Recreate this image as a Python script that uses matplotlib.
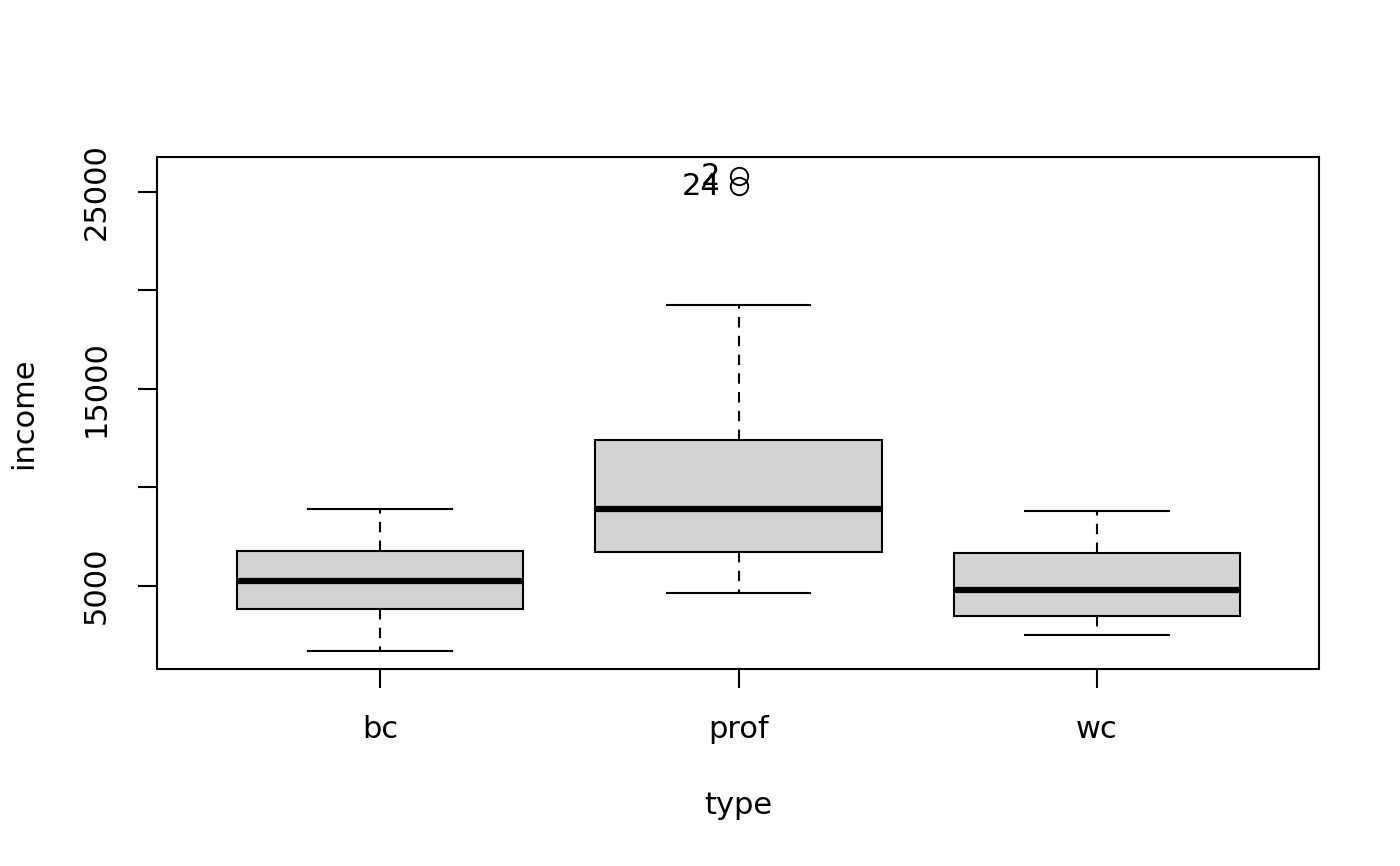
import matplotlib
matplotlib.use("Agg")
import matplotlib.pyplot as plt

# Data (income by occupation type)
categories = ["bc", "prof", "wc"]
whisker_low = [1680, 4630, 2480]
q1 = [3800, 6700, 3470]
medians = [5240, 8880, 4780]
q3 = [6780, 12400, 6660]
whisker_high = [8900, 19270, 8780]
outlier_values = [[], [25800, 25290], []]
outlier_labels = [[], ["2", "24"], []]
y_ticks = [5000, 10000, 15000, 20000, 25000]
y_tick_labels = ["5000", "", "15000", "", "25000"]

plt.rcParams['font.family'] = ['DejaVu Sans']

fig = plt.figure(figsize=(14, 8.66), dpi=100)
ax = fig.add_axes([157/1400, 1 - 669/866, (1319-157)/1400, (669-157)/866])

stats = []
for i, c in enumerate(categories):
    stats.append(dict(label=c, whislo=whisker_low[i], q1=q1[i], med=medians[i],
                      q3=q3[i], whishi=whisker_high[i], fliers=outlier_values[i]))

positions = [1, 2, 3]
ax.bxp(stats, positions=positions, widths=0.8, capwidths=0.4, patch_artist=True,
       boxprops=dict(facecolor="#D3D3D3", edgecolor="black", linewidth=1.5),
       medianprops=dict(color="black", linewidth=4.5, solid_capstyle="butt"),
       whiskerprops=dict(color="black", linewidth=1.5, linestyle=(0, (5, 4))),
       capprops=dict(color="black", linewidth=1.5),
       flierprops=dict(marker="o", markerfacecolor="none", markeredgecolor="black",
                       markersize=12.5, markeredgewidth=1.4))

for i, (vals, labs) in enumerate(zip(outlier_values, outlier_labels)):
    for v, lab in zip(vals, labs):
        ax.annotate(lab, xy=(positions[i], v), xytext=(-13, 0), textcoords="offset points",
                    ha="right", va="center", fontsize=22)

ax.set_xlim(0.378, 3.619)
ax.set_ylim(760, 26780)

ax.set_yticks(y_ticks)
ax.set_yticklabels(y_tick_labels, rotation=90, va="center", fontsize=22)
ax.set_xticks(positions)
ax.set_xticklabels(categories, fontsize=22)
ax.tick_params(axis="both", length=14, width=1.5)
ax.tick_params(axis="x", pad=19)
ax.tick_params(axis="y", pad=19)

for s in ax.spines.values():
    s.set_linewidth(1.5)

fig.text(738/1400, 1 - 805/866, "type", ha="center", va="center", fontsize=22)
fig.text(24/1400, 1 - 413/866, "income", ha="center", va="center", rotation=90, fontsize=22)

fig.savefig("out.png", dpi=100)
